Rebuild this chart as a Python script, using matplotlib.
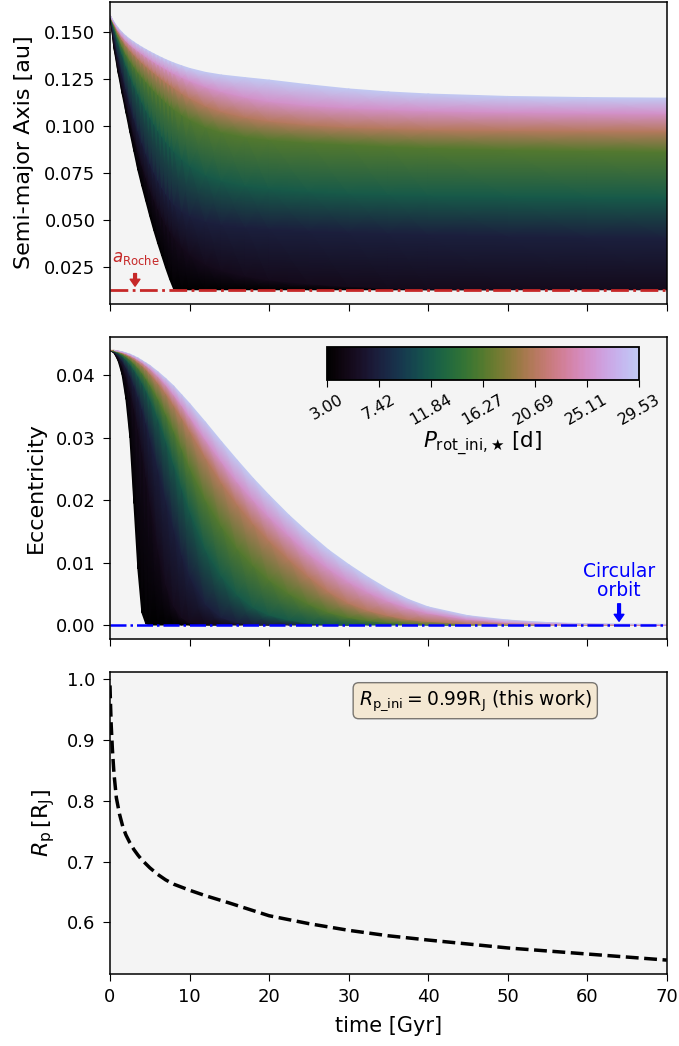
import numpy as np
import matplotlib
matplotlib.use("Agg")
import matplotlib.pyplot as plt
from matplotlib.colors import ListedColormap, Normalize
from matplotlib.cm import ScalarMappable

# ---------------- data ----------------
PROT = [3.00, 5.00, 7.42, 11.84, 16.27, 20.69, 25.11, 29.53]
CB_TICKS = [3.00, 7.42, 11.84, 16.27, 20.69, 25.11, 29.53]
A_ROCHE = 0.0129

# semi-major axis [au]
TIME_A = [0, 0.5, 1, 1.5, 2, 2.5, 3, 3.5, 4, 4.5, 5, 5.5, 6, 6.5, 7, 7.5, 8, 9, 10, 12, 14, 17, 20, 25, 30, 35, 40,
          50, 60, 70]
A_P03 = [0.1588, 0.1410, 0.1285, 0.1175, 0.1070, 0.0965, 0.0865, 0.0765, 0.0680, 0.0600, 0.0520, 0.0445, 0.0375,
         0.0310, 0.0245, 0.0185, 0.0133, 0.0129, 0.0129, 0.0129, 0.0129, 0.0129, 0.0129, 0.0129, 0.0129, 0.0129,
         0.0129, 0.0129, 0.0129, 0.0129]
A_P05 = [0.1588, 0.1440, 0.1320, 0.1215, 0.1120, 0.1030, 0.0945, 0.0865, 0.0790, 0.0725, 0.0665, 0.0610, 0.0560,
         0.0515, 0.0475, 0.0440, 0.0408, 0.0355, 0.0315, 0.0262, 0.0230, 0.0200, 0.0180, 0.0160, 0.0147, 0.0138,
         0.0132, 0.0129, 0.0129, 0.0129]
A_P07 = [0.1588, 0.1470, 0.1370, 0.1280, 0.1195, 0.1115, 0.1040, 0.0972, 0.0910, 0.0853, 0.0800, 0.0753, 0.0710,
         0.0672, 0.0638, 0.0608, 0.0582, 0.0545, 0.0520, 0.0490, 0.0474, 0.0460, 0.0450, 0.0440, 0.0432, 0.0426,
         0.0420, 0.0412, 0.0405, 0.0400]
A_P12 = [0.1588, 0.1515, 0.1445, 0.1380, 0.1320, 0.1265, 0.1215, 0.1170, 0.1125, 0.1083, 0.1045, 0.1009, 0.0975,
         0.0944, 0.0915, 0.0889, 0.0865, 0.0822, 0.0787, 0.0737, 0.0707, 0.0680, 0.0665, 0.0650, 0.0640, 0.0634,
         0.0630, 0.0625, 0.0620, 0.0618]
A_P16 = [0.1588, 0.1530, 0.1472, 0.1422, 0.1380, 0.1345, 0.1314, 0.1285, 0.1259, 0.1234, 0.1210, 0.1187, 0.1165,
         0.1145, 0.1125, 0.1106, 0.1088, 0.1058, 0.1032, 0.0992, 0.0965, 0.0940, 0.0925, 0.0910, 0.0900, 0.0890,
         0.0882, 0.0872, 0.0866, 0.0862]
A_P21 = [0.1588, 0.1540, 0.1495, 0.1458, 0.1427, 0.1401, 0.1378, 0.1356, 0.1336, 0.1317, 0.1299, 0.1282, 0.1265,
         0.1248, 0.1232, 0.1217, 0.1202, 0.1173, 0.1147, 0.1105, 0.1075, 0.1045, 0.1025, 0.1005, 0.0993, 0.0986,
         0.0980, 0.0975, 0.0972, 0.0970]
A_P25 = [0.1588, 0.1546, 0.1508, 0.1477, 0.1452, 0.1432, 0.1414, 0.1398, 0.1383, 0.1368, 0.1354, 0.1340, 0.1327,
         0.1314, 0.1302, 0.1290, 0.1279, 0.1258, 0.1239, 0.1207, 0.1182, 0.1152, 0.1130, 0.1108, 0.1095, 0.1087,
         0.1080, 0.1072, 0.1068, 0.1065]
A_P30 = [0.1588, 0.1551, 0.1521, 0.1497, 0.1477, 0.1460, 0.1445, 0.1431, 0.1418, 0.1406, 0.1394, 0.1383, 0.1372,
         0.1362, 0.1352, 0.1343, 0.1334, 0.1319, 0.1305, 0.1284, 0.1270, 0.1256, 0.1243, 0.1218, 0.1196, 0.1180,
         0.1169, 0.1156, 0.1150, 0.1147]

# eccentricity
TIME_E = [0, 0.5, 1, 1.5, 2, 2.5, 3, 3.5, 4, 4.5, 5, 6, 7, 8, 9, 10, 12, 14, 16, 18, 20, 22.5, 25, 27.5, 30, 32.5,
          35, 37.5, 40, 45, 50, 55, 60, 70]
E_P03 = [0.0440, 0.0436, 0.0424, 0.0402, 0.0362, 0.0300, 0.0195, 0.0090, 0.0020, 0.0002, 0, 0, 0, 0, 0, 0, 0, 0,
         0, 0, 0, 0, 0, 0, 0, 0, 0, 0, 0, 0, 0, 0, 0, 0]
E_P05 = [0.0440, 0.0437, 0.0429, 0.0416, 0.0398, 0.0375, 0.0347, 0.0314, 0.0277, 0.0237, 0.0197, 0.0122, 0.0065,
         0.0030, 0.0012, 0.0004, 0.0001, 0, 0, 0, 0, 0, 0, 0, 0, 0, 0, 0, 0, 0, 0, 0, 0, 0]
E_P07 = [0.0440, 0.0438, 0.0432, 0.0424, 0.0413, 0.0400, 0.0384, 0.0366, 0.0346, 0.0324, 0.0300, 0.0250, 0.0200,
         0.0153, 0.0112, 0.0078, 0.0033, 0.0012, 0.0004, 0.0001, 0, 0, 0, 0, 0, 0, 0, 0, 0, 0, 0, 0, 0, 0]
E_P12 = [0.0440, 0.0439, 0.0436, 0.0431, 0.0425, 0.0418, 0.0409, 0.0399, 0.0388, 0.0376, 0.0362, 0.0331, 0.0295,
         0.0257, 0.0219, 0.0182, 0.0120, 0.0078, 0.0048, 0.0028, 0.0016, 0.0008, 0.0003, 0.0001, 0, 0, 0, 0, 0,
         0, 0, 0, 0, 0]
E_P16 = [0.0440, 0.0439, 0.0437, 0.0434, 0.0430, 0.0425, 0.0419, 0.0412, 0.0404, 0.0395, 0.0385, 0.0363, 0.0338,
         0.0311, 0.0282, 0.0252, 0.0200, 0.0158, 0.0122, 0.0095, 0.0072, 0.0050, 0.0033, 0.0020, 0.0012, 0.0007,
         0.0004, 0.0002, 0.0001, 0, 0, 0, 0, 0]
E_P21 = [0.0440, 0.0440, 0.0438, 0.0436, 0.0433, 0.0430, 0.0426, 0.0421, 0.0416, 0.0410, 0.0403, 0.0388, 0.0371,
         0.0352, 0.0332, 0.0311, 0.0268, 0.0228, 0.0193, 0.0162, 0.0135, 0.0105, 0.0077, 0.0053, 0.0035, 0.0023,
         0.0015, 0.0009, 0.0006, 0.0002, 0.0001, 0, 0, 0]
E_P25 = [0.0440, 0.0440, 0.0439, 0.0437, 0.0435, 0.0432, 0.0429, 0.0425, 0.0421, 0.0416, 0.0411, 0.0399, 0.0385,
         0.0369, 0.0352, 0.0334, 0.0297, 0.0262, 0.0229, 0.0200, 0.0173, 0.0143, 0.0114, 0.0090, 0.0069, 0.0052,
         0.0038, 0.0027, 0.0019, 0.0009, 0.0004, 0.0002, 0.0001, 0.0000]
E_P30 = [0.0440, 0.0440, 0.0439, 0.0438, 0.0436, 0.0434, 0.0431, 0.0428, 0.0424, 0.0420, 0.0416, 0.0406, 0.0395,
         0.0383, 0.0369, 0.0355, 0.0325, 0.0294, 0.0264, 0.0235, 0.0208, 0.0176, 0.0147, 0.0120, 0.0097, 0.0076,
         0.0057, 0.0041, 0.0029, 0.0015, 0.0008, 0.0004, 0.0002, 0.0001]

# planetary radius [R_J]
RP_TIME = [0, 0.05, 0.15, 0.3, 0.5, 0.8, 1.2, 1.6, 2, 2.5, 3, 3.5, 4, 5, 6, 7, 8, 10, 12, 15, 20, 25, 30, 35, 40,
           50, 60, 70]
RP_VAL = [0.99, 0.965, 0.925, 0.885, 0.845, 0.805, 0.778, 0.758, 0.744, 0.731, 0.720, 0.711, 0.703, 0.690, 0.679,
          0.670, 0.663, 0.653, 0.644, 0.632, 0.611, 0.598, 0.587, 0.578, 0.571, 0.558, 0.548, 0.538]

# ---------------- figure ----------------
red = "#c62828"
cmap = ListedColormap(plt.get_cmap("cubehelix")(np.linspace(0.0, 0.8, 256)))
norm = Normalize(vmin=CB_TICKS[0], vmax=CB_TICKS[-1])

fig = plt.figure(figsize=(6.79, 10.46), dpi=100)
gs = fig.add_gridspec(3, 1, left=0.162, right=0.982, top=0.9985, bottom=0.069, hspace=0.109)
ax1 = fig.add_subplot(gs[0])
ax2 = fig.add_subplot(gs[1], sharex=ax1)
ax3 = fig.add_subplot(gs[2], sharex=ax1)

for ax in (ax1, ax2, ax3):
    ax.set_facecolor("#f4f4f4")
    ax.tick_params(labelsize=13, length=5, pad=5.5)
    for s in ax.spines.values():
        s.set_linewidth(1.1)

p_arr = np.array(PROT, dtype=float)

# --- top panel
TA, PA = np.meshgrid(np.array(TIME_A, dtype=float), p_arr)
A_grid = np.array([A_P03, A_P05, A_P07, A_P12, A_P16, A_P21, A_P25, A_P30])
ax1.pcolormesh(TA, A_grid, PA, shading="gouraud", cmap=cmap, norm=norm)
ax1.axhline(A_ROCHE, color=red, ls="-.", lw=2)
ax1.text(3.3, 0.0278, r"$a_{\rm Roche}$", color=red, fontsize=12, ha="center", va="baseline")
ax1.annotate("", xy=(3.15, 0.0148), xytext=(3.15, 0.0215),
             arrowprops=dict(facecolor=red, edgecolor=red, width=2, headwidth=7, headlength=5, shrink=0))
ax1.set_ylim(0.0055, 0.166)
ax1.set_ylabel("Semi-major Axis [au]", fontsize=16, labelpad=7)
ax1.tick_params(labelbottom=False)

# --- middle panel
TE, PE = np.meshgrid(np.array(TIME_E, dtype=float), p_arr)
E_grid = np.array([E_P03, E_P05, E_P07, E_P12, E_P16, E_P21, E_P25, E_P30])
ax2.pcolormesh(TE, E_grid, PE, shading="gouraud", cmap=cmap, norm=norm)
ax2.axhline(0.0, color="blue", ls="-.", lw=1.8)
ax2.text(64, 0.0040, "Circular\norbit", color="blue", fontsize=13.5, ha="center", va="bottom",
         linespacing=1.0)
ax2.annotate("", xy=(64, 0.0006), xytext=(64, 0.0034),
             arrowprops=dict(facecolor="blue", edgecolor="blue", width=2, headwidth=7, headlength=5, shrink=0))
ax2.set_ylim(-0.0022, 0.0462)
ax2.set_ylabel("Eccentricity", fontsize=16, labelpad=7)
ax2.tick_params(labelbottom=False)

cax = ax2.inset_axes([0.389, 0.857, 0.561, 0.11])
cb = fig.colorbar(ScalarMappable(norm=norm, cmap=cmap), cax=cax, orientation="horizontal", ticks=CB_TICKS)
cb.ax.set_xticklabels([f"{v:.2f}" for v in CB_TICKS], rotation=30, fontsize=11.5)
cb.ax.tick_params(length=5)
cb.outline.set_linewidth(1.3)
cb.set_label(r"$P_{\mathrm{rot\_ini},\bigstar}$ [d]", fontsize=15.5, labelpad=1)

# --- bottom panel
ax3.plot(RP_TIME, RP_VAL, color="black", ls="--", lw=2.5)
ax3.set_ylim(0.5154, 1.0126)
ax3.set_ylabel(r"$R_{\rm p}\,[{\rm R_J}]$", fontsize=16, labelpad=7)
ax3.set_xlabel("time [Gyr]", fontsize=15, labelpad=7)
ax3.text(0.656, 0.904, r"$R_{\rm p\_ini} = 0.99{\rm R_J}$ (this work)", transform=ax3.transAxes,
         fontsize=13.5, ha="center", va="center",
         bbox=dict(boxstyle="round", facecolor="wheat", alpha=0.5))

ax1.set_xlim(0, 70)
ax1.set_xticks([0, 10, 20, 30, 40, 50, 60, 70])

fig.savefig("out.png", dpi=100)
